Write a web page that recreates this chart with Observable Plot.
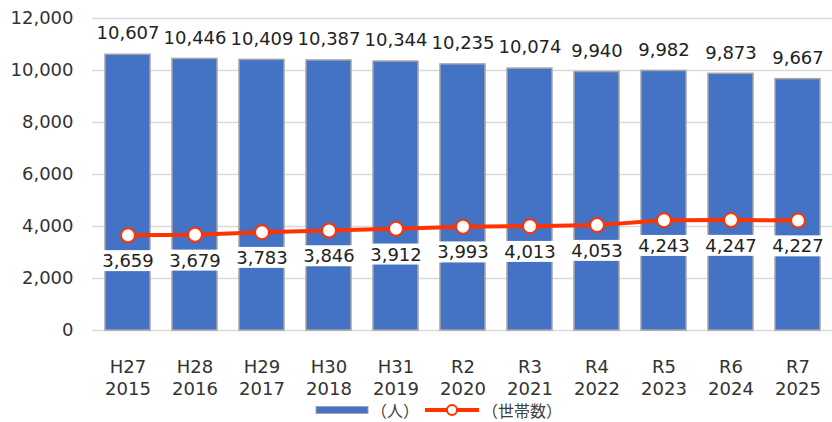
<!DOCTYPE html>
<html><head><meta charset="utf-8">
<script src="https://cdn.jsdelivr.net/npm/d3@7"></script>
<script src="https://cdn.jsdelivr.net/npm/@observablehq/plot@0.6"></script>
<style>
body{margin:0;background:#fff;font-family:"DejaVu Sans",sans-serif;}
#chart{height:398px;}
#legend{position:relative;height:24px;font-size:16px;color:#404040}
#legend .item{position:absolute;top:0;height:24px;display:flex;align-items:center}
#legend .item span{font-family:"Noto Sans CJK JP",sans-serif;}
#legend svg{margin-right:2px}
</style></head><body>
<div id="chart"></div>
<div id="legend">
  <div class="item" style="left:315px"><svg width="54" height="10"><rect x="1" y="1.5" width="52" height="7" fill="#4472C4" stroke="#a5a5a5" stroke-width="1"/></svg><span>（人）</span></div>
  <div class="item" style="left:424px"><svg width="56" height="14"><line x1="1" x2="55" y1="7" y2="7" stroke="#FF3300" stroke-width="4"/><circle cx="28" cy="7" r="5" fill="#fff" stroke="#FF3300" stroke-width="2"/></svg><span>（世帯数）</span></div>
</div>
<script>
const eras = ["H27","H28","H29","H30","H31","R2","R3","R4","R5","R6","R7"];
const years = ["2015","2016","2017","2018","2019","2020","2021","2022","2023","2024","2025"];
const population = [10607,10446,10409,10387,10344,10235,10074,9940,9982,9873,9667];
const households = [3659,3679,3783,3846,3912,3993,4013,4053,4243,4247,4227];
const yTicks = [0,2000,4000,6000,8000,10000,12000];

const data = eras.map((e,i)=>({cat:e+" "+years[i], era:e, year:years[i], pop:population[i], hh:households[i]}));
const fmt = d3.format(",");
const font = '"DejaVu Sans", sans-serif';
const eraOf = Object.fromEntries(data.map(d=>[d.cat,d.era]));
const yearOf = Object.fromEntries(data.map(d=>[d.cat,d.year]));

const chart = Plot.plot({
  width: 832, height: 398,
  marginLeft: 92, marginRight: 0, marginTop: 18, marginBottom: 68,
  style: {fontFamily: font, fontSize: "18px", color: "#404040", background: "#fff"},
  x: {domain: data.map(d=>d.cat), paddingInner: 0.33, paddingOuter: 0.165, label: null},
  y: {domain: [0,12000], label: null},
  marks: [
    Plot.gridY(yTicks, {stroke: "#d9d9d9", strokeOpacity: 1, strokeWidth: 1.5}),
    Plot.barY(data, {x: "cat", y: "pop", fill: "#4472C4", stroke: "#a5a5a5", strokeWidth: 1.5}),
    Plot.axisY(yTicks, {tickSize: 0, tickPadding: 19, tickFormat: fmt, fontSize: 18, fill: "#333"}),
    Plot.axisX({tickSize: 0, tickPadding: 30, tickFormat: c=>eraOf[c], fontSize: 18, fill: "#333"}),
    Plot.axisX({tickSize: 0, tickPadding: 52, tickFormat: c=>yearOf[c], fontSize: 18, fill: "#333"}),
    Plot.text(data, {x: "cat", y: "pop", text: d=>fmt(d.pop), dy: -21, fontSize: 18, fill: "#222"}),
    Plot.line(data, {x: "cat", y: "hh", stroke: "#FF3300", strokeWidth: 4}),
    Plot.dot(data, {x: "cat", y: "hh", r: 7, fill: "white", stroke: "#FF3300", strokeWidth: 2}),
    Plot.text(data, {x: "cat", y: "hh", text: d=>fmt(d.hh), dy: 26, fontSize: 18, fill: "#222"})
  ]
});
document.getElementById("chart").appendChild(chart);

// white boxes behind household labels
const groups = chart.querySelectorAll('g[aria-label="text"]');
const hhGroup = groups[groups.length-1];
hhGroup.querySelectorAll("text").forEach(t=>{
  const b = t.getBBox();
  const r = document.createElementNS("http://www.w3.org/2000/svg","rect");
  r.setAttribute("x", b.x-1); r.setAttribute("y", b.y);
  r.setAttribute("width", b.width+2); r.setAttribute("height", b.height);
  r.setAttribute("fill","#fff");
  if (t.getAttribute("transform")) r.setAttribute("transform", t.getAttribute("transform"));
  t.parentNode.insertBefore(r, t);
});
</script>
</body></html>
